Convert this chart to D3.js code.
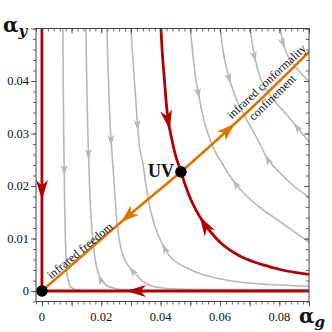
<!DOCTYPE html>
<html>
<head>
<meta charset="utf-8">
<title>RG flow</title>
<style>
body { margin: 0; background: #fff; }
text { font-family: "Liberation Serif", "Times New Roman", serif; fill: #111; }
</style>
</head>
<body>
<svg width="332" height="332"></svg>
<script src="https://d3js.org/d3.v7.min.js"></script>
<script>

// fixed points (alpha_g, alpha_y)
var gaussFP = [0, 0];
var uvFP = [0.04685, 0.0227];

// orange separatrix, origin -> UV -> out
var separatrix = [[0, 0], [0.0273, 0.01343], [0.04685, 0.0227], [0.0593, 0.02895], [0.0735, 0.03638], [0.09, 0.04552]];

// red lines
var lineY0 = [[0, 0.05], [0, 0]];
var lineG0 = [[0.09, 0], [0, 0]];
var critical = [[0.04011, 0.05], [0.04061, 0.04495], [0.04129, 0.04019], [0.04196, 0.03543], [0.0428, 0.03162],
  [0.04382, 0.02876], [0.045, 0.0259], [0.04685, 0.0227], [0.04853, 0.01981], [0.05056, 0.01695],
  [0.05325, 0.0141], [0.05662, 0.01143], [0.06067, 0.00895], [0.06606, 0.00686], [0.07179, 0.00547],
  [0.07685, 0.00461], [0.08089, 0.004], [0.08561, 0.00352], [0.09, 0.00318]];

// grey trajectories
var flowA = [[0.00708, 0.05], [0.00718, 0.0402], [0.00731, 0.0307], [0.00752, 0.0227], [0.00775, 0.01352],
  [0.00809, 0.00686], [0.00859, 0.00286], [0.00944, 0.00095], [0.01112, 0.00029], [0.01416, 0.0001]];
var flowB = [[0.01483, 0.05], [0.0151, 0.04019], [0.01544, 0.03067], [0.01574, 0.02552], [0.01618, 0.01829],
  [0.01685, 0.01162], [0.01786, 0.00629], [0.01887, 0.00362], [0.01988, 0.00229], [0.02157, 0.00114],
  [0.0246, 0.00048], [0.02966, 0.00019], [0.0364, 0.0001]];
var flowC = [[0.02191, 0.05], [0.02241, 0.04019], [0.02309, 0.03067], [0.02383, 0.02457], [0.0246, 0.01829],
  [0.02551, 0.01187], [0.02662, 0.00819], [0.02831, 0.00552], [0.03, 0.00419], [0.03202, 0.00295],
  [0.03404, 0.00181], [0.03707, 0.00095], [0.04146, 0.00051], [0.04988, 0.00032], [0.06336, 0.00027], [0.09, 0.00023]];
var flowD = [[0.03, 0.05], [0.03067, 0.044], [0.03151, 0.03733], [0.03225, 0.03124], [0.03303, 0.02686],
  [0.03394, 0.02457], [0.03505, 0.02019], [0.03674, 0.01505], [0.03876, 0.01124], [0.04112, 0.00838],
  [0.04381, 0.00615], [0.0482, 0.00457], [0.05494, 0.00299], [0.0663, 0.00171], [0.07685, 0.00124], [0.09, 0.0009]];
var flowE = [[0.04998, 0.05], [0.05089, 0.04495], [0.05167, 0.04114], [0.05281, 0.03733], [0.05504, 0.03162],
  [0.05841, 0.02653], [0.06067, 0.02438], [0.06336, 0.0219], [0.06673, 0.01943], [0.07078, 0.01714],
  [0.0755, 0.01505], [0.08089, 0.01295], [0.08561, 0.01105], [0.09, 0.00933]];
var flowF = [[0.0601, 0.05], [0.061, 0.0459], [0.06218, 0.04248], [0.06347, 0.03981], [0.06606, 0.03581],
  [0.06943, 0.03219], [0.0728, 0.02876], [0.07634, 0.02495], [0.08089, 0.0221], [0.08527, 0.01981], [0.09, 0.0179]];
var flowG = [[0.07021, 0.05], [0.07095, 0.04686], [0.07189, 0.044], [0.07415, 0.03981], [0.07863, 0.036],
  [0.08291, 0.03333], [0.08561, 0.03143], [0.09, 0.02848]];
var flowH = [[0.08032, 0.05], [0.08089, 0.04819], [0.08157, 0.04667], [0.08291, 0.04476], [0.0846, 0.04324],
  [0.08662, 0.0419], [0.08864, 0.04067], [0.09, 0.0399]];

// arrow tips: which line, where, and +1 along point order / -1 against it
var redArrows = [
  { line: "lineY0", at: [0, 0.0173], dir: 1 },
  { line: "lineG0", at: [0.0283, 0], dir: 1 },
  { line: "critical", at: [0.043, 0.03067], dir: 1 },
  { line: "critical", at: [0.05335, 0.01438], dir: -1 }
];
var orangeArrows = [
  { line: "separatrix", at: [0.02663, 0.01314], dir: -1 },
  { line: "separatrix", at: [0.065, 0.0317], dir: 1 }
];
var greyArrows = [
  { line: "flowA", at: [0.00755, 0.0219], dir: 1 },
  { line: "flowB", at: [0.01577, 0.02495], dir: 1 },
  { line: "flowB", at: [0.01938, 0.00324], dir: -1 },
  { line: "flowC", at: [0.02332, 0.02762], dir: 1 },
  { line: "flowC", at: [0.02932, 0.00467], dir: -1 },
  { line: "flowD", at: [0.03242, 0.03048], dir: 1 },
  { line: "flowD", at: [0.04044, 0.00895], dir: -1 },
  { line: "flowE", at: [0.05308, 0.03657], dir: 1 },
  { line: "flowE", at: [0.06387, 0.02114], dir: -1 },
  { line: "flowF", at: [0.0638, 0.03943], dir: 1 },
  { line: "flowF", at: [0.075, 0.0259], dir: -1 },
  { line: "flowG", at: [0.07223, 0.04362], dir: 1 },
  { line: "flowG", at: [0.08477, 0.0319], dir: -1 },
  { line: "flowH", at: [0.0817, 0.04619], dir: 1 }
];

var xLabels = [0, 0.02, 0.04, 0.06, 0.08];
var yLabels = [0, 0.01, 0.02, 0.03, 0.04];

var lines = { separatrix: separatrix, lineY0: lineY0, lineG0: lineG0, critical: critical,
  flowA: flowA, flowB: flowB, flowC: flowC, flowD: flowD, flowE: flowE, flowF: flowF, flowG: flowG, flowH: flowH };

var RED = "#b00000", ORANGE = "#dd7500", GREY = "#b8b8b8";

var svg = d3.select("svg");
var x = d3.scaleLinear().domain([-0.002, 0.09]).range([36, 309]);
var y = d3.scaleLinear().domain([-0.002, 0.05]).range([301.5, 28.5]);

svg.append("clipPath").attr("id", "plot")
  .append("rect").attr("x", 36).attr("y", 28.5).attr("width", 273).attr("height", 273);

var line = d3.line().x(function(d) { return x(d[0]); }).y(function(d) { return y(d[1]); })
  .curve(d3.curveCatmullRom.alpha(0.5));
var straight = d3.line().x(function(d) { return x(d[0]); }).y(function(d) { return y(d[1]); });

var plot = svg.append("g").attr("clip-path", "url(#plot)");
var paths = {};

["flowA", "flowB", "flowC", "flowD", "flowE", "flowF", "flowG", "flowH"].forEach(function(k) {
  paths[k] = plot.append("path").attr("d", line(lines[k]))
    .attr("fill", "none").attr("stroke", GREY).attr("stroke-width", 1.6);
});
["lineY0", "lineG0"].forEach(function(k) {
  paths[k] = plot.append("path").attr("d", straight(lines[k]))
    .attr("fill", "none").attr("stroke", RED).attr("stroke-width", 2.8);
});
paths.critical = plot.append("path").attr("d", line(critical))
  .attr("fill", "none").attr("stroke", RED).attr("stroke-width", 2.8);
paths.separatrix = plot.append("path").attr("d", line(separatrix))
  .attr("fill", "none").attr("stroke", ORANGE).attr("stroke-width", 2.6);

function arrows(list, color, L, W) {
  list.forEach(function(a) {
    var p = paths[a.line].node(), len = p.getTotalLength();
    var tx = x(a.at[0]), ty = y(a.at[1]), best = 0, bd = Infinity;
    for (var s = 0; s <= len; s += 0.5) {
      var q = p.getPointAtLength(s), dd = (q.x - tx) * (q.x - tx) + (q.y - ty) * (q.y - ty);
      if (dd < bd) { bd = dd; best = s; }
    }
    var p0 = p.getPointAtLength(Math.max(0, best - 2)), p1 = p.getPointAtLength(Math.min(len, best + 2));
    var tip = p.getPointAtLength(best);
    var ang = Math.atan2(p1.y - p0.y, p1.x - p0.x) * 180 / Math.PI + (a.dir < 0 ? 180 : 0);
    svg.append("path")
      .attr("d", "M0,0L" + (-L) + "," + (-W / 2) + "L" + (-0.72 * L) + ",0L" + (-L) + "," + (W / 2) + "Z")
      .attr("fill", color)
      .attr("transform", "translate(" + tip.x + "," + tip.y + ") rotate(" + ang + ")");
  });
}
arrows(greyArrows, GREY, 11, 7);
arrows(redArrows, RED, 20, 12);
arrows(orangeArrows, ORANGE, 18, 12.5);

// fixed points
[gaussFP, uvFP].forEach(function(d) {
  svg.append("circle").attr("cx", x(d[0])).attr("cy", y(d[1])).attr("r", 5.8).attr("fill", "#000");
});

// frame with ticks
var minor = d3.range(-1, 46).map(function(i) { return i * 0.002; });
var minorY = d3.range(-1, 26).map(function(i) { return i * 0.002; });
var majorX = d3.range(0, 10).map(function(i) { return i * 0.01; });
var majorY = d3.range(0, 6).map(function(i) { return i * 0.01; });

function frameAxis(axis, tr, vals, size) {
  svg.append("g").attr("transform", tr)
    .call(axis.tickValues(vals).tickSize(size).tickFormat(""))
    .call(function(g) {
      g.select(".domain").remove();
      g.selectAll("line").attr("stroke", "#444").attr("stroke-width", 0.8);
    });
}
frameAxis(d3.axisBottom(x), "translate(0,301.5)", minor, 3);
frameAxis(d3.axisBottom(x), "translate(0,301.5)", majorX, 5);
frameAxis(d3.axisTop(x), "translate(0,28.5)", minor, -3);
frameAxis(d3.axisTop(x), "translate(0,28.5)", majorX, -5);
frameAxis(d3.axisLeft(y), "translate(36,0)", minorY, 3);
frameAxis(d3.axisLeft(y), "translate(36,0)", majorY, 5);
frameAxis(d3.axisRight(y), "translate(309,0)", minorY, -3);
frameAxis(d3.axisRight(y), "translate(309,0)", majorY, -5);

svg.append("rect").attr("x", 36).attr("y", 28.5).attr("width", 273).attr("height", 273)
  .attr("fill", "none").attr("stroke", "#444").attr("stroke-width", 1);

svg.append("g").selectAll("text").data(xLabels).enter().append("text")
  .attr("x", function(d) { return x(d); }).attr("y", 321)
  .attr("text-anchor", "middle").attr("font-size", 12.5)
  .text(function(d) { return d === 0 ? "0" : d3.format(".2f")(d); });
svg.append("g").selectAll("text").data(yLabels).enter().append("text")
  .attr("x", 29).attr("y", function(d) { return y(d); }).attr("dy", "0.34em")
  .attr("text-anchor", "end").attr("font-size", 12.5)
  .text(function(d) { return d === 0 ? "0" : d3.format(".2f")(d); });

// axis titles
var ay = svg.append("text").attr("x", 3).attr("y", 32).attr("font-weight", "bold")
  .style("font-family", "'DejaVu Serif', serif").attr("font-size", 20);
ay.append("tspan").text("α");
ay.append("tspan").attr("font-size", 15).attr("font-style", "italic").attr("dy", 4).text("y");
var ag = svg.append("text").attr("x", 299).attr("y", 323).attr("font-weight", "bold")
  .style("font-family", "'DejaVu Serif', serif").attr("font-size", 20);
ag.append("tspan").text("α");
ag.append("tspan").attr("font-size", 15).attr("font-style", "italic").attr("dy", 4).text("g");

// annotations
svg.append("text").attr("x", 174).attr("y", 177).attr("text-anchor", "end")
  .attr("font-size", 18).attr("font-weight", "bold").text("UV");

function slanted(txt, cx, cy, ang) {
  svg.append("text").attr("transform", "translate(" + cx + "," + cy + ") rotate(" + ang + ")")
    .attr("text-anchor", "middle").attr("dy", "0.32em").attr("font-size", 12).text(txt);
}
slanted("infrared freedom", 80, 250.8, -39.5);
slanted("infrared conformality", 266.7, 81.7, -43);
slanted("confinement", 272.5, 97.5, -44);

</script>
</body>
</html>
